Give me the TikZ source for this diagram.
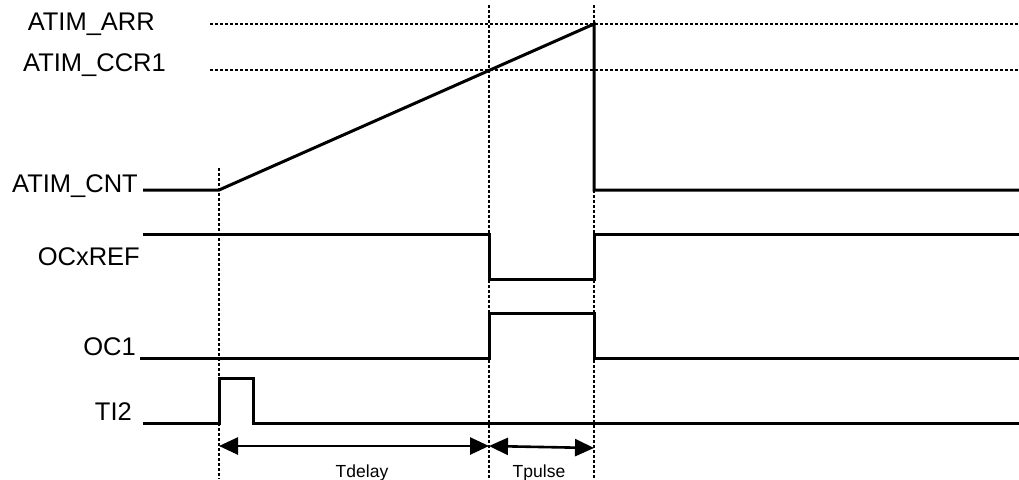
\documentclass[tikz,border=0pt]{standalone}
\usepackage{fontspec}
\setmainfont{Liberation Sans}
\usetikzlibrary{arrows.meta}
\begin{document}
\begin{tikzpicture}[x=1pt,y=-1pt,
  sig/.style={line width=3pt,line join=miter,line cap=butt},
  guide/.style={line width=1.3pt,dash pattern=on 2.5pt off 2.5pt},
  dim/.style={line width=2.6pt,{Triangle[length=19pt,width=17pt]}-{Triangle[length=19pt,width=17pt]}},
  lbl/.style={inner sep=0pt,anchor=base east,font=\fontsize{25.5}{30}\selectfont},
  tlbl/.style={inner sep=0pt,anchor=base,font=\fontsize{17.5}{20}\selectfont}]
\useasboundingbox (0,0) rectangle (1019,479);
% labels
\node[lbl] (arr) at (155,30) {ATIM\_ARR};
\node[lbl] (ccr) at (166,71) {ATIM\_CCR1};
\node[lbl] (cnt) at (138,192) {ATIM\_CNT};
\node[lbl] (ref) at (140,265) {OCxREF};
\node[lbl] (oc1) at (136,355) {OC1};
\node[lbl] (ti2) at (132,420) {TI2};
\node[tlbl] (td) at (362,477) {Tdelay};
\node[tlbl] (tp) at (539,477) {Tpulse};
% guides
\coordinate (va0) at (219,168); \coordinate (va1) at (219,479);
\coordinate (vb0) at (489,5);   \coordinate (vb1) at (489,479);
\coordinate (vc0) at (594,5);   \coordinate (vc1) at (594,479);
\coordinate (ha0) at (210,24);  \coordinate (ha1) at (1019,24);
\coordinate (hb0) at (210,70);  \coordinate (hb1) at (1019,70);
\draw[guide] (va0) -- (va1);
\draw[guide] (vb0) -- (vb1);
\draw[guide] (vc0) -- (vc1);
\draw[guide] (ha0) -- (ha1);
\draw[guide] (hb0) -- (hb1);
% ATIM_CNT
\draw[sig] (143,190) -- (219,190) -- (594,24) -- (594,190) -- (1019,190);
% OCxREF
\draw[sig] (143,234) -- (489,234) -- (489,279) -- (594,279) -- (594,234) -- (1019,234);
% OC1
\draw[sig] (140,358) -- (489,358) -- (489,313) -- (594,313) -- (594,358) -- (1019,358);
% TI2
\draw[sig] (143,423) -- (219,423) -- (219,378) -- (253,378) -- (253,423) -- (1019,423);
% dimension arrows
\coordinate (d0) at (219,446); \coordinate (d1) at (489,446);
\coordinate (p0) at (489,446); \coordinate (p1) at (594,448);
\draw[dim] (d0) -- (d1);
\draw[dim] (p0) -- (p1);
\end{tikzpicture}
\end{document}
